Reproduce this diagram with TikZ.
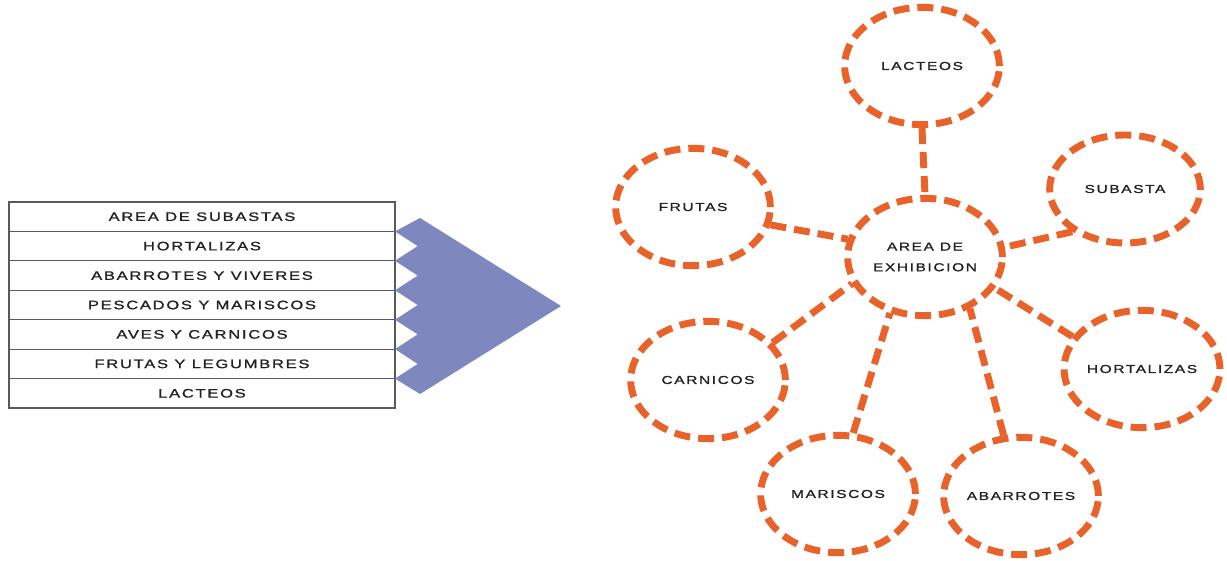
\documentclass[tikz,border=0pt]{standalone}
\usepackage{fontspec}
\usetikzlibrary{shapes.geometric}
\newfontfamily\lblfont{Liberation Sans}[FakeStretch=1.35,LetterSpace=14,FakeBold=1.2]
\definecolor{orng}{HTML}{E8622A}
\definecolor{wedge}{HTML}{7E88BF}
\definecolor{txt}{HTML}{222222}
\definecolor{rowline}{HTML}{5A5A5A}
\begin{document}
\begin{tikzpicture}[x=0.75pt,y=-0.75pt,
  rowbox/.style={draw=rowline,line width=0.8pt,minimum width=289.5pt,minimum height=22.07pt,inner sep=0pt,outer sep=0pt,text=txt,font=\lblfont\fontsize{9.2}{11}\selectfont},
  bub/.style={ellipse,draw=orng,line width=5.2pt,dash pattern=on 12pt off 6pt,inner sep=0pt,minimum width=116pt,minimum height=88pt,text=txt,align=center,font=\lblfont\fontsize{8.6}{15.5}\selectfont},
  link/.style={draw=orng,line width=5.2pt,dash pattern=on 12pt off 6pt}]
\useasboundingbox (0,0) rectangle (1227,560);
% table
\node[rowbox] (r1) at (202,216.7) {AREA DE SUBASTAS};
\node[rowbox] (r2) at (202,246.1) {HORTALIZAS};
\node[rowbox] (r3) at (202,275.6) {ABARROTES Y VIVERES};
\node[rowbox] (r4) at (202,305.0) {PESCADOS Y MARISCOS};
\node[rowbox] (r5) at (202,334.4) {AVES Y CARNICOS};
\node[rowbox] (r6) at (202,363.9) {FRUTAS Y LEGUMBRES};
\node[rowbox] (r7) at (202,393.3) {LACTEOS};
% wedge
\coordinate (wt) at (420,218);
\coordinate (wtip) at (561,306);
\coordinate (wb) at (420,394);
\fill[wedge] (wt) -- (wtip) -- (wb) -- (r6.south east)
  -- ([xshift=17pt]r6.east) -- (r5.south east)
  -- ([xshift=17pt]r5.east) -- (r4.south east)
  -- ([xshift=17pt]r4.east) -- (r3.south east)
  -- ([xshift=17pt]r3.east) -- (r2.south east)
  -- ([xshift=17pt]r2.east) -- (r1.south east) -- cycle;
% bubbles
\node[bub] (area) at (925,257) {AREA DE\\EXHIBICION};
\node[bub] (lac) at (922,66) {LACTEOS};
\node[bub] (fru) at (693,207) {FRUTAS};
\node[bub,minimum width=113pt,minimum height=81pt] (sub) at (1125,189) {SUBASTA};
\node[bub] (car) at (708,380) {CARNICOS};
\node[bub] (hor) at (1142,369) {HORTALIZAS};
\node[bub] (mar) at (838,494) {MARISCOS};
\node[bub] (aba) at (1021,496) {ABARROTES};
% connectors
\path[link] (lac.south) -- (area.north);
\path[link] (fru.-13) -- (area.167);
\path[link] (sub.219) -- (area.7);
\path[link] (car.30) -- (area.200);
\path[link] (mar.76) -- (area.238);
\path[link] (aba.106) -- (area.311);
\path[link] (hor.155) -- (area.336);
\end{tikzpicture}
\end{document}
